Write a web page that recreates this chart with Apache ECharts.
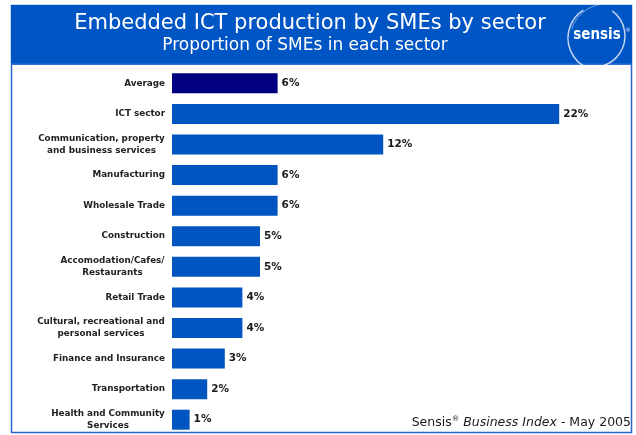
<!DOCTYPE html>
<html>
<head>
<meta charset="utf-8">
<script src="https://cdn.jsdelivr.net/npm/echarts@6/dist/echarts.min.js"></script>
<style>
  html, body { margin: 0; padding: 0; background: #ffffff; }
  #chart { width: 636px; height: 435px; }
</style>
</head>
<body>
<div id="chart"></div>
<script>
// Sectors, top to bottom
const categories = [
  'Average',
  'ICT sector',
  'Communication, property\nand business services',
  'Manufacturing',
  'Wholesale Trade',
  'Construction',
  'Accomodation/Cafes/\nRestaurants',
  'Retail Trade',
  'Cultural, recreational and\npersonal services',
  'Finance and Insurance',
  'Transportation',
  'Health and Community\nServices'
];
// Share of SMEs with embedded ICT production (%)
const values = [6, 22, 12, 6, 6, 5, 5, 4, 4, 3, 2, 1];

const titleText = 'Embedded ICT production by SMEs by sector';
const subtitleText = 'Proportion of SMEs in each sector';

const LABEL_FONT = 'DejaVu Sans';
const LABEL_SIZE = 8.8;
const HEADER_BLUE = '#0055c4';
const BAR_BLUE = '#0055c0';
const AVG_NAVY = '#000080';

// Two-line category labels have their lines centred on each other:
// give every line a token as wide as the widest line of that label.
const ctx = document.createElement('canvas').getContext('2d');
ctx.font = 'bold ' + LABEL_SIZE + 'px "' + LABEL_FONT + '"';
const rich = {};
categories.forEach((c, i) => {
  if (c.indexOf('\n') >= 0) {
    const w = Math.ceil(Math.max(...c.split('\n').map(l => ctx.measureText(l).width)));
    rich['c' + i] = {
      width: w, align: 'center', fontFamily: LABEL_FONT, fontWeight: 'bold',
      fontSize: LABEL_SIZE, color: '#222222', lineHeight: 12
    };
  }
});

const chart = echarts.init(document.getElementById('chart'), null, { renderer: 'canvas' });

chart.setOption({
  animation: false,
  backgroundColor: '#ffffff',
  grid: { left: 172, right: 24, top: 68, bottom: 0, containLabel: false },
  xAxis: {
    type: 'value', min: 0, max: 25, show: false
  },
  yAxis: {
    type: 'category', inverse: true, data: categories,
    axisLine: { show: false }, axisTick: { show: false }, splitLine: { show: false },
    axisLabel: {
      margin: 7, fontFamily: LABEL_FONT, fontWeight: 'bold', fontSize: LABEL_SIZE,
      color: '#222222', lineHeight: 12, align: 'right',
      formatter: (value, idx) => {
        if (value.indexOf('\n') < 0) return value;
        return value.split('\n').map(l => '{c' + idx + '|' + l + '}').join('\n');
      },
      rich: rich
    }
  },
  series: [{
    type: 'bar',
    barWidth: 20,
    data: values.map((v, i) => ({
      value: v,
      itemStyle: { color: i === 0 ? AVG_NAVY : BAR_BLUE }
    })),
    label: {
      show: true, position: 'right', distance: 4,
      formatter: '{c}%', fontFamily: LABEL_FONT, fontWeight: 'bold',
      fontSize: 10.5, color: '#1a1a1a'
    }
  }],
  graphic: [
    // outer frame
    {
      type: 'rect', z: -1, silent: true,
      shape: { x: 11.5, y: 5.5, width: 620, height: 427 },
      style: { fill: 'none', stroke: '#2a66cc', lineWidth: 1.5 }
    },
    // header band
    {
      type: 'rect', silent: true,
      shape: { x: 11, y: 5, width: 621, height: 60 },
      style: { fill: HEADER_BLUE }
    },
    {
      type: 'rect', silent: true,
      shape: { x: 11, y: 63.5, width: 621, height: 1.5 },
      style: { fill: '#2f72d6' }
    },
    {
      type: 'text', silent: true,
      style: {
        text: titleText, x: 310, y: 24, align: 'center', verticalAlign: 'middle',
        fill: '#ffffff', font: '21px "DejaVu Sans"'
      }
    },
    {
      type: 'text', silent: true,
      style: {
        text: subtitleText, x: 305, y: 45.5, align: 'center', verticalAlign: 'middle',
        fill: '#ffffff', font: '17px "DejaVu Sans"'
      }
    },
    // sensis logo
    {
      type: 'arc', silent: true,
      shape: { cx: 601, cy: 38, r: 33, startAngle: Math.PI * 0.62, endAngle: Math.PI * 1.32 },
      style: { stroke: 'rgba(255,255,255,0.75)', lineWidth: 1.5, fill: 'none' }
    },
    {
      type: 'arc', silent: true,
      shape: { cx: 594, cy: 36, r: 31, startAngle: -Math.PI * 0.3, endAngle: Math.PI * 0.4 },
      style: { stroke: 'rgba(255,255,255,0.75)', lineWidth: 1.5, fill: 'none' }
    },
    {
      type: 'arc', silent: true,
      shape: { cx: 606, cy: 40, r: 36, startAngle: Math.PI * 1.1, endAngle: Math.PI * 1.45 },
      style: { stroke: 'rgba(255,255,255,0.45)', lineWidth: 1, fill: 'none' }
    },
    {
      type: 'text', silent: true,
      style: {
        text: 'sensis', x: 597, y: 35, align: 'center', verticalAlign: 'middle',
        fill: '#ffffff', font: 'bold 15px "DejaVu Sans Condensed"'
      }
    },
    {
      type: 'text', silent: true,
      style: {
        text: '®', x: 628, y: 30, align: 'center', verticalAlign: 'middle',
        fill: 'rgba(255,255,255,0.8)', font: '6px "DejaVu Sans"'
      }
    },
    // source note
    {
      type: 'text', silent: true,
      style: {
        text: '{n|Sensis}{s|®} {i|Business Index}{n| - May 2005}',
        x: 631, y: 430, align: 'right', verticalAlign: 'bottom',
        fill: '#1a1a1a', font: '12.5px "DejaVu Sans"',
        rich: {
          n: { fontFamily: 'DejaVu Sans', fontSize: 12.5, fill: '#1a1a1a', lineHeight: 15 },
          i: { fontFamily: 'DejaVu Sans', fontSize: 12.5, fontStyle: 'italic', fill: '#1a1a1a', lineHeight: 15 },
          s: { fontFamily: 'DejaVu Sans', fontSize: 7.5, fill: '#1a1a1a', verticalAlign: 'top', lineHeight: 15 }
        }
      }
    }
  ]
});
</script>
</body>
</html>
